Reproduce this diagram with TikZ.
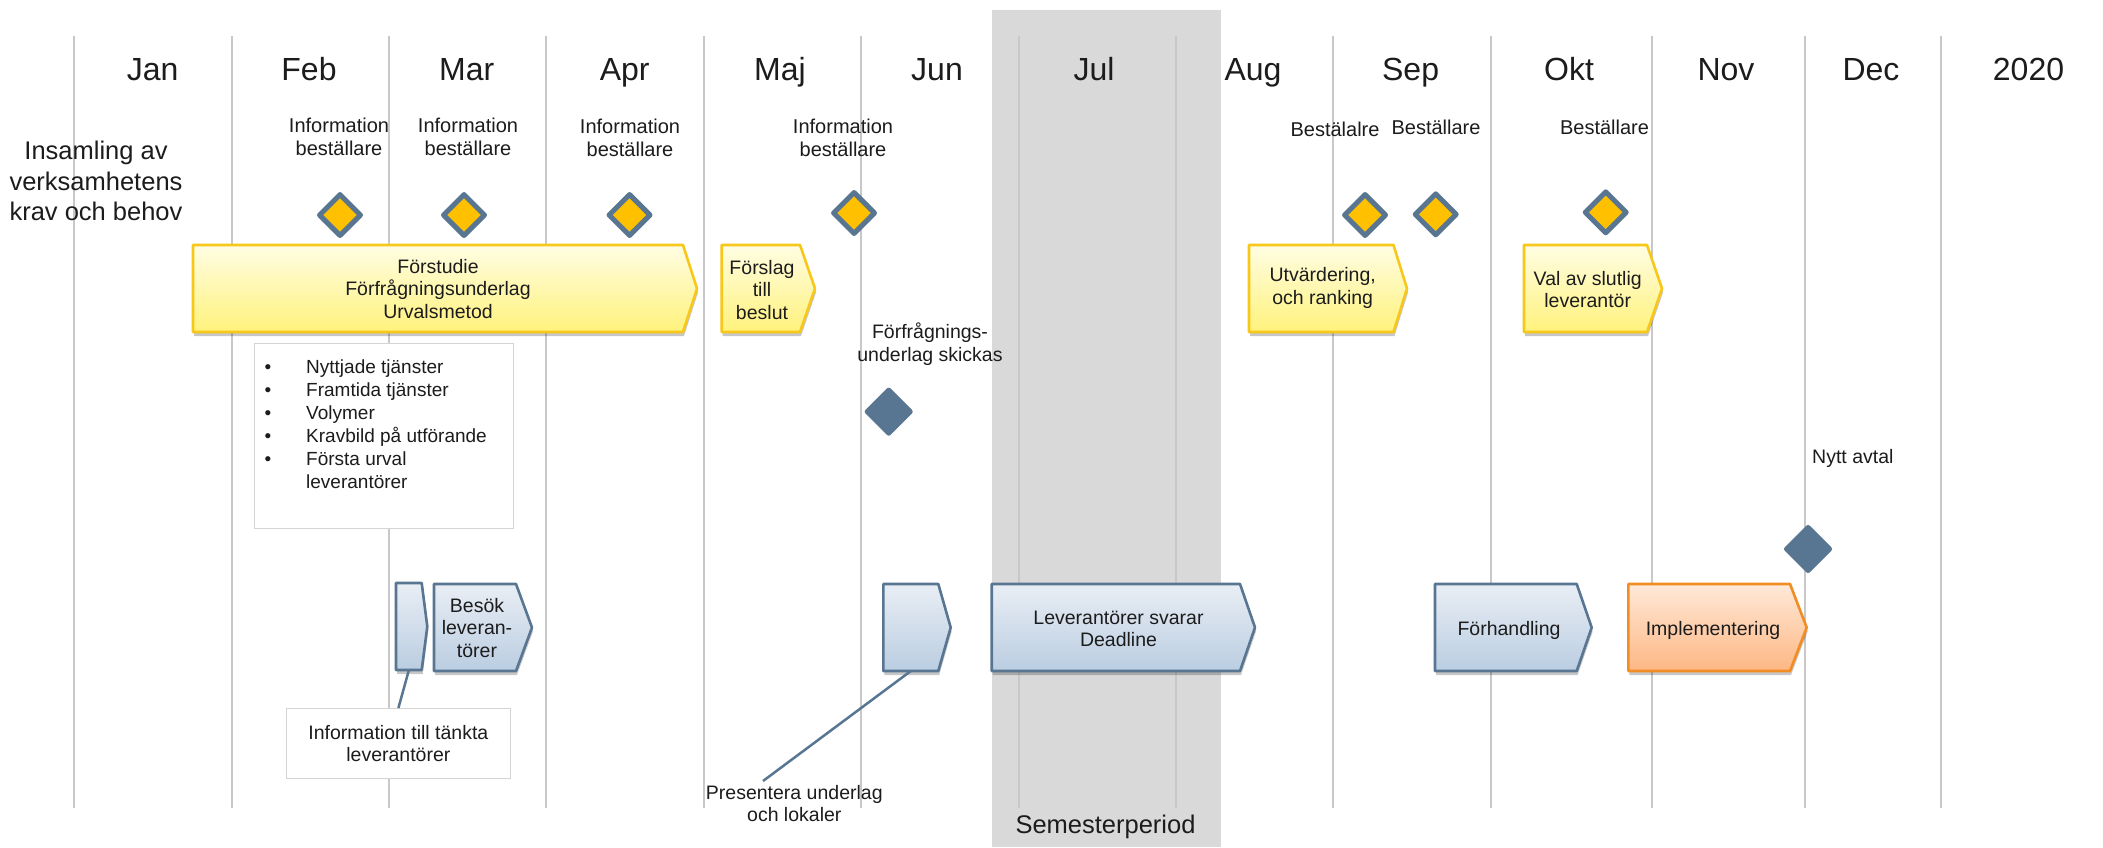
\documentclass[tikz,border=0pt]{standalone}
\usepackage{fontspec}
\setmainfont{Liberation Sans}
\usetikzlibrary{shapes.geometric,shadows}
\definecolor{slate}{HTML}{587691}
\definecolor{gold}{HTML}{FFC000}
\definecolor{gridgray}{HTML}{C8C8C8}
\definecolor{band}{HTML}{D9D9D9}
\definecolor{blueTop}{HTML}{E9EEF5}
\definecolor{blueBot}{HTML}{BACDE1}
\definecolor{yelTop}{HTML}{FFFDE3}
\definecolor{yelBot}{HTML}{FFF27C}
\definecolor{yelLine}{HTML}{F7C71A}
\definecolor{orTop}{HTML}{FFE9D8}
\definecolor{orBot}{HTML}{FDB784}
\definecolor{orLine}{HTML}{F18D22}
\definecolor{ink}{HTML}{1C1C1C}
\definecolor{boxline}{HTML}{D4D4D4}
\newcommand\chev[6]{\path[#1] (#2,#5) -- (#3,#5) -- (#4,{(#5+#6)/2}) -- (#3,#6) -- (#2,#6) -- cycle;}
\begin{document}
\begin{tikzpicture}[x=1pt,y=-1pt,
  gridline/.style={draw=gridgray, line width=2.6pt},
  month/.style={font=\fontsize{32}{38}\selectfont, text=ink, anchor=base, inner sep=0pt},
  big/.style={font=\fontsize{25.5}{30.5}\selectfont, text=ink, align=center, inner sep=0pt},
  small/.style={font=\fontsize{19.5}{22.5}\selectfont, text=ink, align=center, inner sep=0pt},
  shshadow/.style={drop shadow={shadow xshift=1pt, shadow yshift=-4pt, opacity=0.22, fill=black}},
  yelsh/.style={draw=yelLine, line width=2.6pt, top color=yelTop, bottom color=yelBot, line join=round, shshadow},
  bluesh/.style={draw=slate, line width=2.6pt, top color=blueTop, bottom color=blueBot, line join=round, shshadow},
  orsh/.style={draw=orLine, line width=2.6pt, top color=orTop, bottom color=orBot, line join=round, shshadow},
  ms/.style={shape=diamond, draw=slate, line width=5pt, fill=gold, minimum width=43pt, minimum height=43pt, inner sep=0pt, line join=round},
  msolid/.style={shape=diamond, draw=slate, fill=slate, line width=1pt, minimum width=49pt, minimum height=49pt, inner sep=0pt, rounded corners=2pt},
  wbox/.style={draw=boxline, fill=white, line width=1pt, inner sep=0pt},
  conn/.style={draw=slate, line width=2.5pt},
  ghost/.style={inner sep=0pt, outer sep=0pt}
]
\useasboundingbox (0,0) rectangle (2103,847);
\fill[white] (0,0) rectangle (2103,847);
% summer band
\fill[band] (992,10) rectangle (1221,847);
% month grid
\foreach \x in {74,232,389,546,704,861,1019,1176,1333,1491,1652,1805,1941}
  \draw[gridline] (\x,36) -- (\x,808);
% month labels
\foreach \x/\t/\n in {152.7/Jan/mjan,309/Feb/mfeb,466.7/Mar/mmar,624.7/Apr/mapr,780/Maj/mmaj,937/Jun/mjun,1094/Jul/mjul,1253/Aug/maug,1410.6/Sep/msep,1569/Okt/mokt,1726/Nov/mnov,1871/Dec/mdec,2028.5/2020/my2020}
  \node[month] (\n) at (\x,80) {\t};

% left heading
\node[big] (insamling) at (96,181) {Insamling av\\verksamhetens\\krav och behov};

% white boxes
\node[wbox, minimum width=259pt, minimum height=185pt] (bulletbox) at (384,435.5) {};
\node[anchor=north west, inner sep=0pt, font=\fontsize{19}{22.9}\selectfont, text=ink] (bullets) at (264.5,357.5)
  {\begin{tabular}{@{}p{41.5pt}@{}l@{}}
   \textbullet & Nyttjade tjänster\\
   \textbullet & Framtida tjänster\\
   \textbullet & Volymer\\
   \textbullet & Kravbild på utförande\\
   \textbullet & Första urval\\
               & leverantörer
   \end{tabular}};
\node[wbox, minimum width=224pt, minimum height=70pt, font=\fontsize{19.5}{22.5}\selectfont, text=ink, align=center] (infobox) at (398.4,743.5) {Information till tänkta\\leverantörer};

% yellow phases
\chev{yelsh}{193}{683}{697}{245}{332}
\node[small] (forstudie) at (438,289) {Förstudie\\Förfrågningsunderlag\\Urvalsmetod};
\chev{yelsh}{721.7}{800}{815}{245}{332}
\node[small] (forslag) at (762,290) {Förslag\\till\\beslut};
\chev{yelsh}{1249}{1393.5}{1407}{245}{332}
\node[small] (utv) at (1322.7,288) {Utvärdering,\\och ranking};
\chev{yelsh}{1524}{1647}{1662}{245}{332}
\node[small] (val) at (1587.7,289.3) {Val av slutlig\\leverantör};

% blue / orange phases
\chev{bluesh}{396}{421.7}{427.3}{583}{670}
\node[ghost, minimum width=25.7pt, minimum height=87pt] (slim) at (408.9,626.5) {};
\chev{bluesh}{434}{516}{532}{584}{671}
\node[small] (besok) at (477,628) {Besök\\leveran-\\törer};
\chev{bluesh}{883.3}{938.3}{950.7}{584}{671}
\node[ghost, minimum width=55pt, minimum height=87pt] (junbox) at (910.8,627.5) {};
\chev{bluesh}{991.7}{1240}{1255}{584}{671}
\node[small] (lev) at (1118.5,629) {Leverantörer svarar\\Deadline};
\chev{bluesh}{1435}{1576.7}{1591.7}{584}{671}
\node[small] (forh) at (1509,630) {Förhandling};
\chev{orsh}{1628.3}{1790}{1806.7}{584}{671}
\node[small] (impl) at (1713,630) {Implementering};

% connectors
\node[small] (pres) at (794.3,803.6) {Presentera underlag\\och lokaler};
\coordinate (presEnd) at (763,781);
\draw[conn] (slim.south) -- (infobox.north);
\draw[conn] (junbox.south) -- (presEnd);

% milestone labels
\node[small, font=\fontsize{20}{22.5}\selectfont] (i1) at (339,137) {Information\\beställare};
\node[small, font=\fontsize{20}{22.5}\selectfont] (i2) at (468,137) {Information\\beställare};
\node[small, font=\fontsize{20}{22.5}\selectfont] (i3) at (630,138) {Information\\beställare};
\node[small, font=\fontsize{20}{22.5}\selectfont] (i4) at (843,138) {Information\\beställare};
\node[small, font=\fontsize{20}{22.5}\selectfont] (b1) at (1335,129) {Bestälalre};
\node[small, font=\fontsize{20}{22.5}\selectfont] (b2) at (1436,127) {Beställare};
\node[small, font=\fontsize{20}{22.5}\selectfont] (b3) at (1604.5,127) {Beställare};

% milestones
\node[ms] (m1) at (340,215) {};
\node[ms] (m2) at (464,215) {};
\node[ms] (m3) at (629.5,215) {};
\node[ms] (m4) at (854,213) {};
\node[ms] (m5) at (1365,215) {};
\node[ms] (m6) at (1435.7,214.3) {};
\node[ms] (m7) at (1605.7,212.3) {};

\node[small] (ffu) at (930,344) {Förfrågnings-\\underlag skickas};
\node[msolid] (d1) at (888.7,411.7) {};
\node[small, anchor=west] (nytt) at (1812,458) {Nytt avtal};
\node[msolid] (d2) at (1808,549) {};

\node[big] (sem) at (1105.5,827) {Semesterperiod};
\end{tikzpicture}
\end{document}
